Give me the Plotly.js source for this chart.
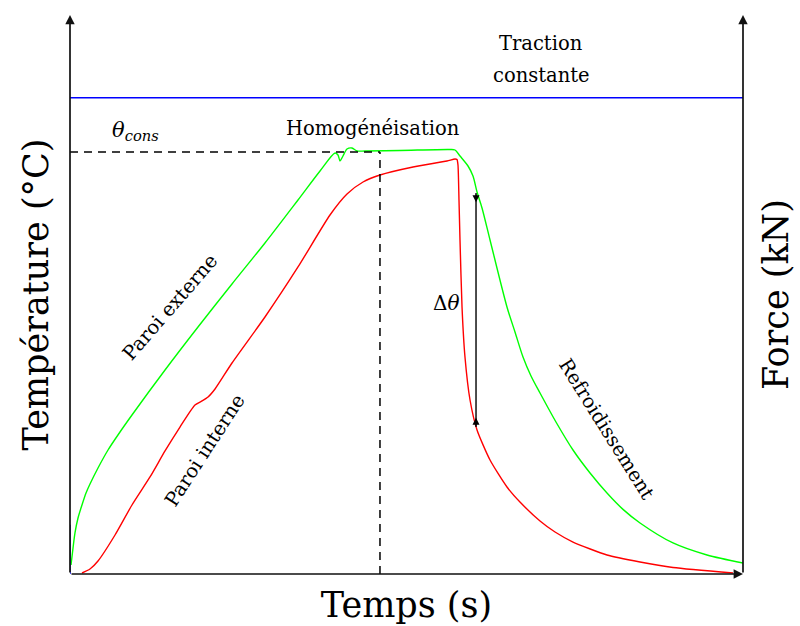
<!DOCTYPE html>
<html>
<head>
<meta charset="utf-8">
<script src="https://cdn.plot.ly/plotly-3.0.1.min.js"></script>
<style>html,body{margin:0;padding:0;background:#fff;}</style>
</head>
<body>
<div id="chart" style="width:800px;height:626px;"></div>
<script>
// Time (s, arbitrary scale 0-100) and temperature (°C, theta_cons = 1000)
const extTime = [0.15,0.45,0.74,1.19,1.78,2.38,2.97,4.16,5.65,7.43,9.21,14.12,19.02,24.07,28.97,33.88,37.15,39.38,39.82,40.12,40.56,41.16,41.90,42.65,43.83,49.03,56.46,57.21,57.95,59.14,59.88,60.48,61.22,62.41,64.93,66.12,67.31,68.50,69.84,72.21,74.74,77.27,79.79,82.17,84.70,89.60,94.65,100];
const extTemp = [21.3,61.6,97.2,132.7,163.5,191.9,213.3,251.2,293.8,336.5,376.8,483.4,585.3,687.2,784.4,886.3,955.0,997.6,992.9,978.7,990.5,1007.1,1009.5,1002.4,1002.4,1003.6,1005.9,1004.7,990.5,966.8,943.1,905.2,867.3,791.5,632.7,573.5,514.2,469.2,428.9,360.2,293.8,239.3,191.9,153.1,120.9,73.5,45.0,26.1];
const intTime = [1.78,2.97,4.16,6.69,9.21,11.89,14.12,16.34,18.57,19.61,20.51,21.55,24.07,28.97,33.88,38.63,41.16,43.54,46.06,50.97,56.02,57.21,57.50,57.65,57.80,57.95,58.25,58.69,59.44,60.48,62.41,64.93,66.86,69.84,72.07,74.74,79.79,84.70,89.60,98.51];
const intTemp = [2.4,11.8,30.8,92.4,163.5,229.9,291.5,348.3,400.5,410.0,419.4,438.4,500.0,609.0,727.5,850.7,900.5,928.9,945.5,964.5,978.7,983.4,982.2,969.2,886.3,791.5,632.7,514.2,412.3,341.2,270.1,206.2,170.6,125.6,99.5,75.8,45.0,28.4,15.4,2.4];
// Force (kN, arbitrary scale 0-100)
const forceTime = [0, 0, null, 0, 100];
const forceVal = [0, 8.8, null, 85.2, 85.2];
const thetaCons = 1000;
const tHomog = 46.06;
const tDelta = 60.33;
const deltaTop = 902.8;
const deltaBottom = 348.3;
const tMax = 100, tempMax = 1324.6, forceMax = 100;

const serif = 'DejaVu Serif, serif';
const lblFont = {family: serif, size: 19.5, color: '#000'};

const traces = [
  {x: forceTime, y: forceVal, yaxis: 'y2', mode: 'lines', line: {color: '#0000ff', width: 1.4}, hoverinfo: 'skip', connectgaps: false},
  {x: extTime, y: extTemp, mode: 'lines', line: {color: '#00ff00', width: 1.4, shape: 'spline', smoothing: 0.8}, name: 'Paroi externe'},
  {x: intTime, y: intTemp, mode: 'lines', line: {color: '#ff0000', width: 1.4, shape: 'spline', smoothing: 0.6}, name: 'Paroi interne'}
];

function arrowAnn(x, y, ax, ay) {
  return {x: x, y: y, ax: ax, ay: ay, xref: 'x', yref: 'y', axref: 'x', ayref: 'y',
    text: '', showarrow: true, arrowhead: 2, arrowsize: 1.1, arrowwidth: 1.7, arrowcolor: '#111'};
}
function txt(x, y, t, angle, font) {
  return {x: x, y: y, xref: 'x', yref: 'y', text: t, showarrow: false, textangle: angle || 0,
    font: font || lblFont, xanchor: 'center', yanchor: 'middle'};
}

const annotations = [
  arrowAnn(0, tempMax, 0, 0),
  arrowAnn(tMax, 0, 0, 0),
  arrowAnn(tMax, tempMax, tMax, 0),
  // delta theta arrowheads (pointing inward)
  {x: tDelta, y: deltaTop - 22, ax: tDelta, ay: deltaTop, xref: 'x', yref: 'y', axref: 'x', ayref: 'y', text: '', showarrow: true, arrowhead: 2, arrowsize: 1, arrowwidth: 1.4, arrowcolor: '#000'},
  {x: tDelta, y: deltaBottom + 22, ax: tDelta, ay: deltaBottom, xref: 'x', yref: 'y', axref: 'x', ayref: 'y', text: '', showarrow: true, arrowhead: 2, arrowsize: 1, arrowwidth: 1.4, arrowcolor: '#000'},
  txt(9.8, 1049.8, '<i>θ</i><sub><i>cons</i></sub>', 0, {family: serif, size: 21, color: '#000'}),
  txt(45.0, 1054.5, 'Homogénéisation'),
  txt(70.0, 1257, 'Traction'),
  txt(70.0, 1181, 'constante'),
  txt(15.0, 632.7, 'Paroi externe', -49),
  txt(20.06, 291.5, 'Paroi interne', -57),
  txt(79.8, 343.6, 'Refroidissement', 58),
  txt(56.0, 642.2, 'Δ<i>θ</i>', 0, {family: serif, size: 20, color: '#000'})
];

const shapes = [
  {type: 'line', xref: 'x', yref: 'y', x0: 0, x1: tHomog, y0: thetaCons, y1: thetaCons, line: {color: '#000', width: 1.5, dash: '8px,6px'}},
  {type: 'line', xref: 'x', yref: 'y', x0: tHomog, x1: tHomog, y0: 0, y1: thetaCons, line: {color: '#000', width: 1.5, dash: '8px,6px'}},
  {type: 'line', xref: 'x', yref: 'y', x0: tDelta, x1: tDelta, y0: deltaBottom, y1: deltaTop, line: {color: '#000', width: 1.4}}
];

const layout = {
  width: 800, height: 626,
  margin: {l: 70, r: 57, t: 15, b: 52},
  paper_bgcolor: '#fff', plot_bgcolor: '#fff',
  showlegend: false,
  xaxis: {range: [0, tMax], showgrid: false, zeroline: false, showline: false, showticklabels: false, ticks: '',
    title: {text: 'Temps (s)', font: {family: serif, size: 35, color: '#000'}, standoff: 18}},
  yaxis: {range: [0, tempMax], showgrid: false, zeroline: false, showline: false, showticklabels: false, ticks: '',
    title: {text: 'Température (°C)', font: {family: serif, size: 35, color: '#000'}, standoff: 9}},
  yaxis2: {range: [0, forceMax], overlaying: 'y', side: 'right', showgrid: false, zeroline: false, showline: false, showticklabels: false, ticks: '',
    title: {text: 'Force (kN)', font: {family: serif, size: 35, color: '#000'}, standoff: 20}},
  annotations: annotations,
  shapes: shapes
};

Plotly.newPlot('chart', traces, layout, {displayModeBar: false, staticPlot: true});
</script>
</body>
</html>
